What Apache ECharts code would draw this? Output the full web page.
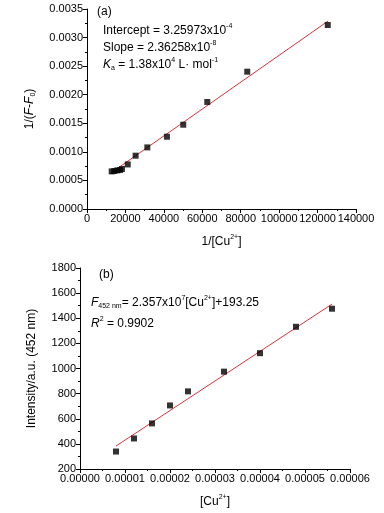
<!DOCTYPE html>
<html>
<head>
<meta charset="utf-8">
<script src="https://cdn.jsdelivr.net/npm/echarts@6/dist/echarts.min.js"></script>
<style>
  html, body { margin: 0; padding: 0; background: #fff; }
  #chart { width: 384px; height: 513px; }
</style>
</head>
<body>
<div id="chart"></div>
<script>
// (a) double reciprocal plot
const xA = [12850, 14200, 15800, 17200, 18200, 21200, 25300, 31400, 41600, 50100, 62600, 83400, 125300];
const yA = [0.000658, 0.000665, 0.000676, 0.000683, 0.0007, 0.00078, 0.000933, 0.001078, 0.001265, 0.001475, 0.001873, 0.002403, 0.00322];
const fitAx = [12000, 125500];
const fitAy = [0.00062, 0.00329];

// (b) intensity vs [Cu2+]
const xB = [0.000008, 0.000012, 0.000016, 0.00002, 0.000024, 0.000032, 0.00004, 0.000048, 0.000056];
const yB = [339, 443, 563, 706, 818, 975, 1122, 1332, 1476];
const fitBx = [0.000008, 0.000056];
const fitBy = [383, 1513];

const zip = (a, b) => a.map((v, i) => [v, b[i]]);

const chart = echarts.init(document.getElementById('chart'));

const font = 'Liberation Sans, Arial, sans-serif';
// superscript / subscript tokens, shifted with padding
const sup = { fontSize: 7, fontFamily: font, color: '#000', padding: [0, 0, 8, 0] };
const sub = { fontSize: 7, fontFamily: font, color: '#000', padding: [7, 0, 0, 0] };
const it = { fontStyle: 'italic', fontSize: 12, fontFamily: font, color: '#000' };

const axisCommon = {
  axisLine: { show: true, lineStyle: { color: '#000', width: 1 } },
  axisTick: { show: true, inside: false, length: 4, lineStyle: { color: '#000' } },
  minorTick: { show: true, splitNumber: 2, length: 2, lineStyle: { color: '#000' } },
  splitLine: { show: false },
  axisLabel: { fontSize: 11, fontFamily: font, color: '#000', margin: 4 },
  nameLocation: 'middle',
  nameTextStyle: { fontSize: 12, fontFamily: font, color: '#000', rich: { sup, sub, it } }
};

const option = {
  animation: false,
  backgroundColor: '#fff',
  grid: [
    { left: 87, right: 28, top: 9, bottom: 304 },
    { left: 80, right: 34, top: 268, bottom: 44 }
  ],
  xAxis: [
    Object.assign({}, axisCommon, {
      gridIndex: 0, type: 'value', min: 0, max: 140000, interval: 20000,
      name: '1/[Cu{sup|2+}]', nameGap: 25,
      axisLabel: Object.assign({}, axisCommon.axisLabel, { formatter: v => String(v) })
    }),
    Object.assign({}, axisCommon, {
      gridIndex: 1, type: 'value', min: 0, max: 0.00006, interval: 0.00001,
      name: '[Cu{sup|2+}]', nameGap: 25,
      axisLabel: Object.assign({}, axisCommon.axisLabel, { formatter: v => v.toFixed(5) })
    })
  ],
  yAxis: [
    Object.assign({}, axisCommon, {
      gridIndex: 0, type: 'value', min: 0, max: 0.0035, interval: 0.0005,
      name: '1/({it|F}-{it|F}{sub|0})', nameGap: 50,
      axisLabel: Object.assign({}, axisCommon.axisLabel, { formatter: v => v.toFixed(4) })
    }),
    Object.assign({}, axisCommon, {
      gridIndex: 1, type: 'value', min: 200, max: 1800, interval: 200,
      name: 'Intensity/a.u. (452 nm)', nameGap: 42,
      axisLabel: Object.assign({}, axisCommon.axisLabel, { formatter: v => String(v) })
    })
  ],
  series: [
    {
      type: 'line', xAxisIndex: 0, yAxisIndex: 0, data: zip(fitAx, fitAy),
      showSymbol: false, lineStyle: { color: '#e0303a', width: 1 }, z: 2
    },
    {
      type: 'scatter', xAxisIndex: 0, yAxisIndex: 0, data: zip(xA, yA),
      symbol: 'rect', symbolSize: 6, itemStyle: { color: '#000' }, z: 3
    },
    {
      type: 'line', xAxisIndex: 1, yAxisIndex: 1, data: zip(fitBx, fitBy),
      showSymbol: false, lineStyle: { color: '#e0303a', width: 1 }, z: 2
    },
    {
      type: 'scatter', xAxisIndex: 1, yAxisIndex: 1, data: zip(xB, yB),
      symbol: 'rect', symbolSize: 6, itemStyle: { color: '#000' }, z: 3
    }
  ],
  graphic: [
    { type: 'text', left: 97, top: 6, style: { text: '(a)', font: '12px ' + font, fill: '#000' } },
    {
      type: 'text', left: 103, top: 22,
      style: {
        text: 'Intercept = 3.25973x10{sup|-4}\nSlope = 2.36258x10{sup|-8}\n{it|K}{sub|a} = 1.38x10{sup|4} L· mol{sup|-1}',
        font: '12px ' + font, fill: '#000', lineHeight: 17, rich: { sup, sub, it }
      }
    },
    { type: 'text', left: 99, top: 269, style: { text: '(b)', font: '12px ' + font, fill: '#000' } },
    {
      type: 'text', left: 91, top: 292,
      style: {
        text: '{it|F}{sub|452 nm}= 2.357x10{sup|7}[Cu{sup|2+}]+193.25\n{it|R}{sup|2} = 0.9902',
        font: '12px ' + font, fill: '#000', lineHeight: 21, rich: { sup, sub, it }
      }
    }
  ]
};

chart.setOption(option);
</script>
</body>
</html>
